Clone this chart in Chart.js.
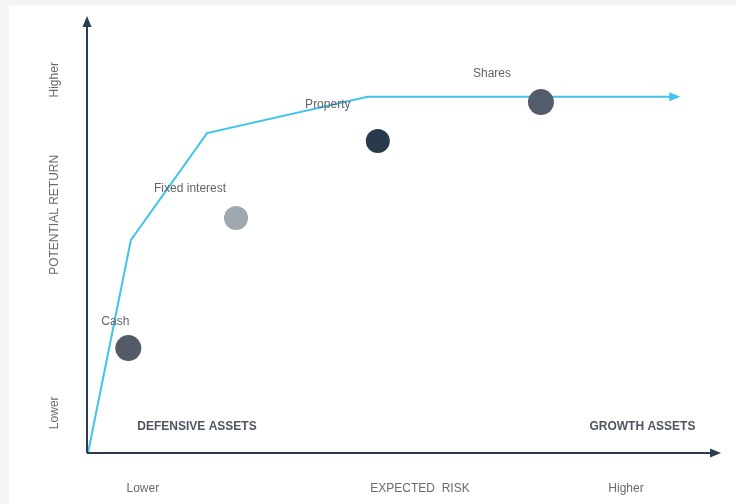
<!DOCTYPE html>
<html>
<head>
<meta charset="utf-8">
<script src="https://cdn.jsdelivr.net/npm/chart.js@4.4.1/dist/chart.umd.min.js"></script>
<style>
  html, body { margin: 0; padding: 0; background: #f4f4f4; }
  #wrap { width: 736px; height: 504px; }
</style>
</head>
<body>
<div id="wrap"><canvas id="riskChart" width="736" height="504"></canvas></div>
<script>
// data ====================================
const assetNames = ["Cash", "Fixed interest", "Property", "Shares"];
const assetRisk = [6.4, 23.5, 46.0, 71.9];
const assetReturn = [24.0, 53.8, 71.4, 80.3];
const assetColors = ["#535b69", "#9ea8ae", "#293a4c", "#555d6d"];

// risk / return frontier
const frontierRisk = [0, 6.8, 18.9, 44.4, 93.7];
const frontierReturn = [0, 48.7, 73.2, 81.5, 81.5];

// axis captions (value along the axis)
const riskTicks = [8.7, 52.7, 85.4];
const riskTickLabels = ["Lower", "EXPECTED  RISK", "Higher"];
const returnTicks = [9.2, 54.5, 85.4];
const returnTickLabels = ["Lower", "POTENTIAL RETURN", "Higher"];

// zone captions
const zoneNames = ["DEFENSIVE ASSETS", "GROWTH ASSETS"];
const zoneRisk = [17.3, 88.0];
const zoneReturn = [6.0, 6.0];

// label offsets from each point, pixels
const labelOffsets = [[-13, -26], [-46, -29], [-50, -36], [-49, -28]];

const FONT = "'Liberation Sans', Arial, sans-serif";

// background + axes + texts
const decorPlugin = {
  id: "decor",
  beforeDraw(chart) {
    const ctx = chart.ctx;
    ctx.save();
    ctx.fillStyle = "#f4f4f4";
    ctx.fillRect(0, 0, chart.width, chart.height);
    ctx.fillStyle = "#ffffff";
    ctx.fillRect(9, 5, chart.width - 9, chart.height - 5);
    ctx.restore();
  },
  afterDatasetsDraw(chart) {
    const ctx = chart.ctx;
    const xs = chart.scales.x;
    const ys = chart.scales.y;
    const x0 = xs.getPixelForValue(0) - 1;
    const y0 = ys.getPixelForValue(0);
    const xEnd = xs.right + 3;
    const yEnd = ys.top;

    ctx.save();
    // axes
    ctx.strokeStyle = "#2b3d4f";
    ctx.fillStyle = "#2b3d4f";
    ctx.lineWidth = 2;
    ctx.beginPath();
    ctx.moveTo(x0, y0);
    ctx.lineTo(xEnd - 8, y0);
    ctx.moveTo(x0, y0);
    ctx.lineTo(x0, yEnd + 8);
    ctx.stroke();
    ctx.beginPath();
    ctx.moveTo(xEnd, y0);
    ctx.lineTo(xEnd - 11, y0 - 4.5);
    ctx.lineTo(xEnd - 11, y0 + 4.5);
    ctx.closePath();
    ctx.fill();
    ctx.beginPath();
    ctx.moveTo(x0, yEnd);
    ctx.lineTo(x0 - 4.5, yEnd + 11);
    ctx.lineTo(x0 + 4.5, yEnd + 11);
    ctx.closePath();
    ctx.fill();

    // frontier arrow head
    const n = frontierRisk.length - 1;
    const ax = xs.getPixelForValue(frontierRisk[n]);
    const ay = ys.getPixelForValue(frontierReturn[n]);
    ctx.fillStyle = "#41c4ec";
    ctx.beginPath();
    ctx.moveTo(ax + 2, ay);
    ctx.lineTo(ax - 9, ay - 4.5);
    ctx.lineTo(ax - 9, ay + 4.5);
    ctx.closePath();
    ctx.fill();

    // axis captions
    ctx.fillStyle = "#6a6a6a";
    ctx.font = "12px " + FONT;
    ctx.textAlign = "center";
    ctx.textBaseline = "middle";
    riskTicks.forEach((v, i) => {
      ctx.fillText(riskTickLabels[i], xs.getPixelForValue(v), 489);
    });
    returnTicks.forEach((v, i) => {
      ctx.save();
      ctx.translate(55, ys.getPixelForValue(v));
      ctx.rotate(-Math.PI / 2);
      ctx.fillText(returnTickLabels[i], 0, 0);
      ctx.restore();
    });

    // zone captions
    ctx.fillStyle = "#4e5560";
    ctx.font = "bold 12px " + FONT;
    zoneNames.forEach((name, i) => {
      ctx.fillText(name, xs.getPixelForValue(zoneRisk[i]), ys.getPixelForValue(zoneReturn[i]));
    });

    // point labels
    ctx.fillStyle = "#5f6368";
    ctx.font = "12px " + FONT;
    assetNames.forEach((name, i) => {
      const px = xs.getPixelForValue(assetRisk[i]) + labelOffsets[i][0];
      const py = ys.getPixelForValue(assetReturn[i]) + labelOffsets[i][1];
      ctx.fillText(name, px, py);
    });
    ctx.restore();
  },
};

const ctx = document.getElementById("riskChart").getContext("2d");
new Chart(ctx, {
  type: "scatter",
  data: {
    datasets: [
      {
        label: "Frontier",
        data: frontierRisk.map((x, i) => ({ x, y: frontierReturn[i] })),
        showLine: true,
        borderColor: "#41c4ec",
        borderWidth: 2,
        pointRadius: 0,
        tension: 0,
        clip: false,
        order: 2,
      },
      {
        label: "Assets",
        data: assetRisk.map((x, i) => ({ x, y: assetReturn[i] })),
        backgroundColor: assetColors,
        borderColor: assetColors,
        borderWidth: 0,
        pointRadius: [13, 12, 12, 13],
        pointHoverRadius: [13, 12, 12, 13],
        clip: false,
        order: 1,
      },
    ],
  },
  options: {
    responsive: false,
    animation: false,
    layout: {
      padding: { left: 88, right: 18, top: 16, bottom: 51 },
    },
    plugins: {
      legend: { display: false },
      tooltip: { enabled: false },
    },
    scales: {
      x: { type: "linear", min: 0, max: 100, display: false },
      y: { type: "linear", min: 0, max: 100, display: false },
    },
  },
  plugins: [decorPlugin],
});
</script>
</body>
</html>
